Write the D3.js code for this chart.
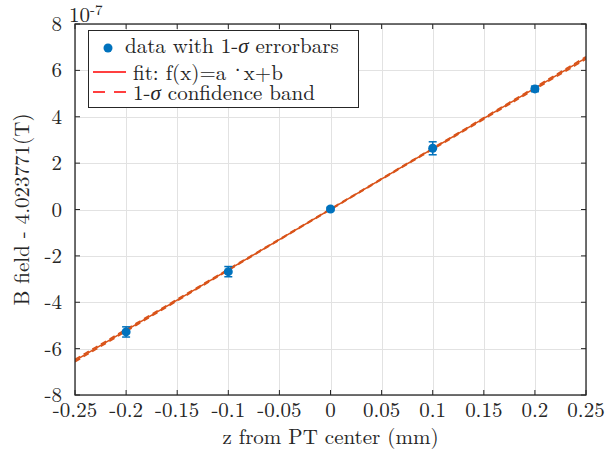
<!DOCTYPE html>
<html>
<head>
<meta charset="utf-8">
<script src="https://cdn.jsdelivr.net/npm/d3@7"></script>
<style>
  html, body { margin: 0; padding: 0; background: #fff; }
  svg { display: block; }
</style>
</head>
<body>
<svg id="chart" width="612" height="457"></svg>
<script>
// Measured field offsets along the trap axis
const zPositions = [-0.2, -0.1, 0, 0.1, 0.2];          // mm
const fieldOffsets = [-5.28, -2.68, 0.02, 2.64, 5.20];  // units of 1e-7 T
const fieldErrors = [0.22, 0.22, 0.08, 0.28, 0.12];     // 1-sigma, units of 1e-7 T

// Linear fit f(x) = a*x + b and its parameter uncertainties
const fitParams = { a: 26.1, b: 0.01 };
const fitSigmas = { a: 0.2, b: 0.02 };

const xTicks = [-0.25, -0.2, -0.15, -0.1, -0.05, 0, 0.05, 0.1, 0.15, 0.2, 0.25];
const xTickLabels = ["-0.25", "-0.2", "-0.15", "-0.1", "-0.05", "0", "0.05", "0.1", "0.15", "0.2", "0.25"];
const yTicks = [-8, -6, -4, -2, 0, 2, 4, 6, 8];
const yTickLabels = ["-8", "-6", "-4", "-2", "0", "2", "4", "6", "8"];

const xLabel = "z from PT center (mm)";
const yLabel = "B field - 4.023771(T)";

const margin = { left: 75, right: 26, top: 24, bottom: 62 };
const W = 612, H = 457;
const fontSize = 21;
const fontFamily = "Latin Modern Roman";
const axisColor = "#262626";
const dataColor = "#0072BD";
const fitColor = "#D95319";

const svg = d3.select("#chart");

const x = d3.scaleLinear().domain([-0.25, 0.25]).range([margin.left, W - margin.right]);
const y = d3.scaleLinear().domain([-8, 8]).range([H - margin.bottom, margin.top]);

const x0 = x.range()[0], x1 = x.range()[1];
const y0 = y.range()[1], y1 = y.range()[0];

// grid
const grid = svg.append("g").attr("stroke", "#e2e2e2").attr("stroke-width", 1);
grid.selectAll("line.gx").data(xTicks).join("line")
  .attr("x1", d => Math.round(x(d)) + 0.5).attr("x2", d => Math.round(x(d)) + 0.5)
  .attr("y1", y0).attr("y2", y1);
grid.selectAll("line.gy").data(yTicks).join("line")
  .attr("y1", d => Math.round(y(d)) + 0.5).attr("y2", d => Math.round(y(d)) + 0.5)
  .attr("x1", x0).attr("x2", x1);

// clipped plotting layer
svg.append("clipPath").attr("id", "plotClip")
  .append("rect").attr("x", x0).attr("y", y0).attr("width", x1 - x0).attr("height", y1 - y0);
const plot = svg.append("g").attr("clip-path", "url(#plotClip)");

// fit line and confidence band
const zLine = x.domain();
const fitY = z => fitParams.a * z + fitParams.b;
const bandHalf = z => Math.sqrt(fitSigmas.b * fitSigmas.b + (fitSigmas.a * z) * (fitSigmas.a * z));
const zSamples = d3.range(0, 51).map(i => zLine[0] + (zLine[1] - zLine[0]) * i / 50);

const line = d3.line().x(d => x(d[0])).y(d => y(d[1]));

plot.append("path")
  .datum(zSamples.map(z => [z, fitY(z) + bandHalf(z)]))
  .attr("d", line).attr("fill", "none").attr("stroke", fitColor)
  .attr("stroke-width", 1.5).attr("stroke-dasharray", "6,4");
plot.append("path")
  .datum(zSamples.map(z => [z, fitY(z) - bandHalf(z)]))
  .attr("d", line).attr("fill", "none").attr("stroke", fitColor)
  .attr("stroke-width", 1.5).attr("stroke-dasharray", "6,4");
plot.append("path")
  .datum(zLine.map(z => [z, fitY(z)]))
  .attr("d", line).attr("fill", "none").attr("stroke", fitColor)
  .attr("stroke-width", 1.5);

// data with error bars
const pts = zPositions.map((z, i) => ({ z, b: fieldOffsets[i], e: fieldErrors[i] }));
const eb = plot.append("g").attr("stroke", dataColor).attr("stroke-width", 1.5);
eb.selectAll("line.v").data(pts).join("line")
  .attr("x1", d => x(d.z)).attr("x2", d => x(d.z))
  .attr("y1", d => y(d.b - d.e)).attr("y2", d => y(d.b + d.e));
eb.selectAll("line.t").data(pts).join("line")
  .attr("x1", d => x(d.z) - 4).attr("x2", d => x(d.z) + 4)
  .attr("y1", d => y(d.b + d.e)).attr("y2", d => y(d.b + d.e));
eb.selectAll("line.bt").data(pts).join("line")
  .attr("x1", d => x(d.z) - 4).attr("x2", d => x(d.z) + 4)
  .attr("y1", d => y(d.b - d.e)).attr("y2", d => y(d.b - d.e));
plot.append("g").selectAll("circle").data(pts).join("circle")
  .attr("cx", d => x(d.z)).attr("cy", d => y(d.b)).attr("r", 4.5)
  .attr("fill", dataColor);

// axes: ticks inward on all four sides
const tickLen = 5;
const axes = svg.append("g").attr("stroke", axisColor).attr("stroke-width", 1);
axes.selectAll("line.xb").data(xTicks).join("line")
  .attr("x1", d => x(d)).attr("x2", d => x(d)).attr("y1", y1).attr("y2", y1 - tickLen);
axes.selectAll("line.xt").data(xTicks).join("line")
  .attr("x1", d => x(d)).attr("x2", d => x(d)).attr("y1", y0).attr("y2", y0 + tickLen);
axes.selectAll("line.yl").data(yTicks).join("line")
  .attr("y1", d => y(d)).attr("y2", d => y(d)).attr("x1", x0).attr("x2", x0 + tickLen);
axes.selectAll("line.yr").data(yTicks).join("line")
  .attr("y1", d => y(d)).attr("y2", d => y(d)).attr("x1", x1).attr("x2", x1 - tickLen);
svg.append("rect").attr("x", x0).attr("y", y0).attr("width", x1 - x0).attr("height", y1 - y0)
  .attr("fill", "none").attr("stroke", axisColor).attr("stroke-width", 1.3);

const txt = sel => sel.attr("fill", axisColor)
  .style("font-family", fontFamily).attr("font-size", fontSize);

// tick labels
svg.append("g").selectAll("text").data(xTicks).join("text")
  .call(txt)
  .attr("x", d => x(d)).attr("y", y1 + 22)
  .attr("text-anchor", "middle")
  .text((d, i) => xTickLabels[i]);
svg.append("g").selectAll("text").data(yTicks).join("text")
  .call(txt)
  .attr("x", x0 - 13).attr("y", d => y(d) + 7)
  .attr("text-anchor", "end")
  .text((d, i) => yTickLabels[i]);

// exponent marker
const expo = svg.append("text").call(txt).attr("x", x0 - 6).attr("y", 22);
expo.append("tspan").text("10");
expo.append("tspan").attr("font-size", 15).attr("dy", -7).text("-7");

// axis labels
svg.append("text").call(txt).attr("x", (x0 + x1) / 2).attr("y", 444)
  .attr("text-anchor", "middle").text(xLabel);
svg.append("text").call(txt).attr("transform", `translate(29,${(y0 + y1) / 2}) rotate(-90)`)
  .attr("text-anchor", "middle").text(yLabel);

// legend
const lg = svg.append("g");
lg.append("rect").attr("x", 88.5).attr("y", 30.5).attr("width", 270).attr("height", 77)
  .attr("fill", "#fff").attr("stroke", axisColor).attr("stroke-width", 1);
lg.append("circle").attr("cx", 108).attr("cy", 48).attr("r", 4.5).attr("fill", dataColor);
const t1 = lg.append("text").call(txt).attr("x", 125).attr("y", 53);
t1.append("tspan").text("data with 1-");
t1.append("tspan").attr("font-style", "italic").text("σ");
t1.append("tspan").text(" errorbars");
lg.append("line").attr("x1", 93).attr("x2", 126).attr("y1", 72).attr("y2", 72)
  .attr("stroke", "#ff0000").attr("stroke-width", 1.5);
const t2 = lg.append("text").call(txt).attr("x", 133).attr("y", 80);
t2.append("tspan").text("fit: f(x)=a");
t2.append("tspan").attr("dx", 3).attr("dy", -3).text("\u00B7");
t2.append("tspan").attr("dx", -2).attr("dy", 3).text("x+b");
lg.append("line").attr("x1", 93).attr("x2", 126).attr("y1", 92).attr("y2", 92)
  .attr("stroke", "#ff0000").attr("stroke-width", 1.5).attr("stroke-dasharray", "12,9");
const t3 = lg.append("text").call(txt).attr("x", 133).attr("y", 100);
t3.append("tspan").text("1-");
t3.append("tspan").attr("font-style", "italic").text("σ");
t3.append("tspan").text(" confidence band");
</script>
</body>
</html>
